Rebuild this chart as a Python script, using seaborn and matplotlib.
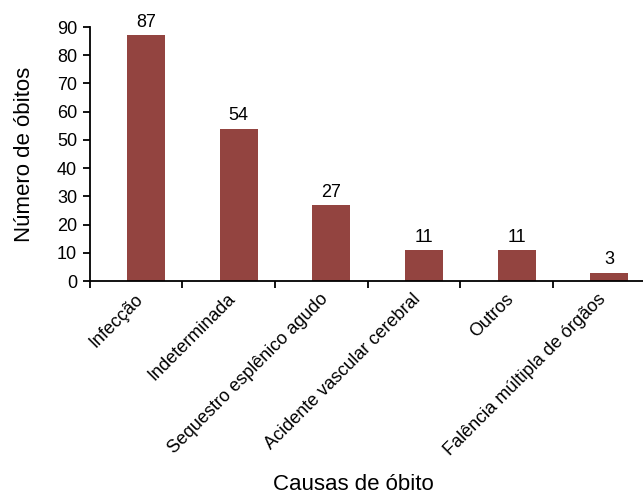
import matplotlib
matplotlib.use("Agg")
import matplotlib.pyplot as plt
import seaborn as sns
import pandas as pd

categorias = ["Infecção", "Indeterminada", "Sequestro esplênico agudo",
              "Acidente vascular cerebral", "Outros", "Falência múltipla de órgãos"]
obitos = [87, 54, 27, 11, 11, 3]

sns.set_theme(style="white")
plt.rcParams['font.family'] = ['Liberation Sans', 'DejaVu Sans']
plt.rcParams['text.color'] = 'black'
plt.rcParams['axes.labelcolor'] = 'black'
plt.rcParams['xtick.color'] = 'black'
plt.rcParams['ytick.color'] = 'black'

df = pd.DataFrame({"causa": categorias, "n": obitos})

fig = plt.figure(figsize=(6.43, 4.98), dpi=100)
ax = fig.add_axes([89.5 / 643, 1 - 281 / 498, 556 / 643, 254 / 498])
sns.barplot(data=df, x="causa", y="n", color="#934440", width=0.41,
            saturation=1, ax=ax, edgecolor="none")
ax.set_xlim(-0.61, 5.39)
ax.set_ylim(0, 90)
ax.set_yticks(range(0, 91, 10))
for sp in ["top", "right"]:
    ax.spines[sp].set_visible(False)
for sp in ["left", "bottom"]:
    ax.spines[sp].set_color("black")
    ax.spines[sp].set_linewidth(1.3)

ax.set_xticks([i - 0.61 for i in range(7)], minor=False)
ax.set_xticklabels([])
ax.set_xticks(range(6), minor=True)
ax.set_xticklabels(categorias, minor=True, rotation=45, ha="right", fontsize=13)
ax.tick_params(axis="x", which="major", direction="out", length=5, width=1.3, bottom=True)
ax.tick_params(axis="x", which="minor", length=0, pad=7)
ax.tick_params(axis="y", direction="out", length=5, width=1.3, left=True, labelsize=13, pad=4)

for c in ax.containers:
    ax.bar_label(c, padding=3, fontsize=13)

ax.set_xlabel("Causas de óbito", fontsize=16)
ax.xaxis.set_label_coords(0.474, -0.76)
ax.set_ylabel("Número de óbitos", fontsize=16)
ax.yaxis.set_label_coords(-0.098, 0.50)
fig.savefig("out.png", dpi=100)
